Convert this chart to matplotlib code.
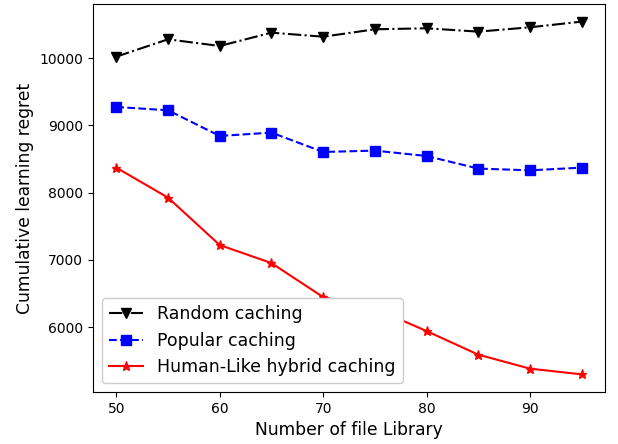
import matplotlib
matplotlib.use("Agg")
import matplotlib.pyplot as plt

library_sizes = [50, 55, 60, 65, 70, 75, 80, 85, 90, 95]
random_caching = [10020, 10278, 10179, 10377, 10317, 10427, 10442, 10392, 10457, 10541]
popular_caching = [9272, 9223, 8841, 8891, 8603, 8623, 8543, 8356, 8330, 8370]
human_like_caching = [8370, 7924, 7219, 6951, 6445, 6274, 5940, 5589, 5381, 5296]

fig = plt.figure(figsize=(6.18, 4.44), dpi=100)
ax = fig.add_axes([93/618, 1-392/444, (605-93)/618, (392-4)/444])

ax.plot(library_sizes, random_caching, color='black', linestyle='-.', marker='v',
        markersize=7, linewidth=1.5, label='Random caching')
ax.plot(library_sizes, popular_caching, color='blue', linestyle='--', marker='s',
        markersize=7, linewidth=1.5, label='Popular caching')
ax.plot(library_sizes, human_like_caching, color='red', linestyle='-', marker='*',
        markersize=6.5, linewidth=1.5, label='Human-Like hybrid caching')

ax.set_xlabel('Number of file Library', fontsize=12.3)
ax.set_ylabel('Cumulative learning regret', fontsize=12.3)
ax.tick_params(labelsize=10)
ax.legend(loc='lower left', fontsize=12.5, framealpha=1)

fig.savefig('out.png', dpi=100)
